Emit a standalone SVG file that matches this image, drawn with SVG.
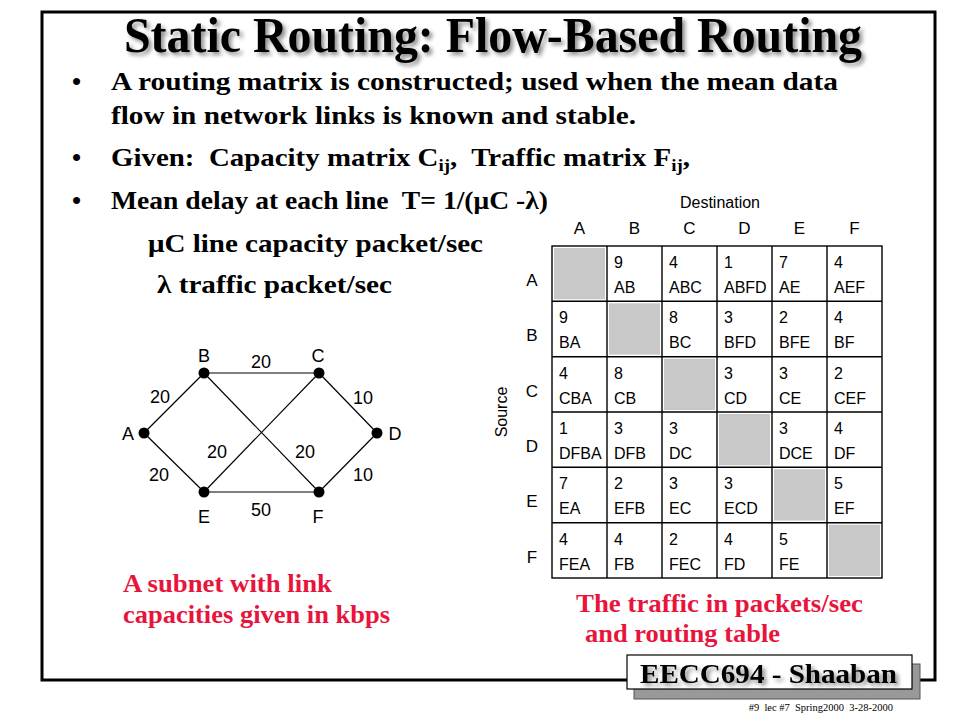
<svg xmlns="http://www.w3.org/2000/svg" width="960" height="720" viewBox="0 0 960 720">
<defs>
<filter id="sh" x="-5%" y="-20%" width="110%" height="150%">
<feGaussianBlur in="SourceAlpha" stdDeviation="2"/>
<feOffset dx="3" dy="3" result="b"/>
<feComponentTransfer><feFuncA type="linear" slope="0.45"/></feComponentTransfer>
<feMerge><feMergeNode/><feMergeNode in="SourceGraphic"/></feMerge>
</filter>
<style>
.ser{font-family:"Liberation Serif","Times New Roman",serif;font-weight:bold;fill:#000}
.red{font-family:"Liberation Serif","Times New Roman",serif;font-weight:bold;fill:#e8143c;font-size:25px}
.ar{font-family:"Liberation Sans",Arial,sans-serif;fill:#000}
.cell{font-family:"Liberation Sans",Arial,sans-serif;font-size:16px;fill:#000}
.lbl{font-family:"Liberation Sans",Arial,sans-serif;font-size:17px;fill:#000;text-anchor:middle}
.gl{font-family:"Liberation Sans",Arial,sans-serif;font-size:18px;fill:#000;text-anchor:middle}
.edge{stroke:#000;stroke-width:1.2;fill:none}
.node{fill:#000}
.grid{stroke:#000;stroke-width:1.4;fill:none}
.gray{fill:#c8c8c8}
</style>
</defs>
<rect width="960" height="720" fill="#fff"/>
<!-- frame -->
<rect x="42" y="12" width="893" height="668" fill="none" stroke="#000" stroke-width="3"/>

<!-- title -->
<text class="ser" x="124" y="52" font-size="51" textLength="738" lengthAdjust="spacingAndGlyphs" filter="url(#sh)">Static Routing: Flow-Based Routing</text>

<!-- bullets -->
<g id="bullets">
<text class="ser" x="72" y="90" font-size="26">•</text>
<text class="ser" x="111" y="90" font-size="26" textLength="727" lengthAdjust="spacingAndGlyphs">A routing matrix is constructed; used when the mean data</text>
<text class="ser" x="111" y="124" font-size="26" textLength="525" lengthAdjust="spacingAndGlyphs">flow in network links is known and stable.</text>
<text class="ser" x="72" y="166" font-size="26">•</text>
<text class="ser" x="111" y="166" font-size="26" textLength="579" lengthAdjust="spacingAndGlyphs" xml:space="preserve">Given:  Capacity matrix C<tspan font-size="17" dy="5">ij</tspan><tspan dy="-5">,  Traffic matrix F</tspan><tspan font-size="17" dy="5">ij</tspan><tspan dy="-5">,</tspan></text>
<text class="ser" x="72" y="209" font-size="26">•</text>
<text class="ser" x="111" y="209" font-size="26" textLength="437" lengthAdjust="spacingAndGlyphs" xml:space="preserve">Mean delay at each line  T= 1/(μC -λ)</text>
<text class="ser" x="148" y="252" font-size="26" textLength="335" lengthAdjust="spacingAndGlyphs">μC line capacity packet/sec</text>
<text class="ser" x="157" y="293" font-size="26" textLength="235" lengthAdjust="spacingAndGlyphs">λ traffic packet/sec</text>
</g>

<!-- graph connectors -->
<g id="connectors">
<line class="edge" x1="144" y1="433" x2="204" y2="373"/>
<line class="edge" x1="144" y1="433" x2="204" y2="492"/>
<line class="edge" x1="204" y1="373" x2="319" y2="373"/>
<line class="edge" x1="204" y1="492" x2="319" y2="492"/>
<line class="edge" x1="319" y1="373" x2="377" y2="433"/>
<line class="edge" x1="319" y1="492" x2="377" y2="433"/>
<line class="edge" x1="204" y1="373" x2="319" y2="492"/>
<line class="edge" x1="319" y1="373" x2="204" y2="492"/>
<text class="gl" x="261" y="368">20</text>
<text class="gl" x="160" y="403">20</text>
<text class="gl" x="363" y="404">10</text>
<text class="gl" x="217" y="458">20</text>
<text class="gl" x="305" y="458">20</text>
<text class="gl" x="159" y="481">20</text>
<text class="gl" x="363" y="481">10</text>
<text class="gl" x="261" y="516">50</text>
</g>
<g id="node-A"><circle class="node" cx="144" cy="433" r="5.5"/><text class="gl" x="128" y="440">A</text></g>
<g id="node-B"><circle class="node" cx="204" cy="373" r="5.5"/><text class="gl" x="204" y="362">B</text></g>
<g id="node-C"><circle class="node" cx="319" cy="373" r="5.5"/><text class="gl" x="318" y="362">C</text></g>
<g id="node-D"><circle class="node" cx="377" cy="433" r="5.5"/><text class="gl" x="395" y="440">D</text></g>
<g id="node-E"><circle class="node" cx="204" cy="492" r="5.5"/><text class="gl" x="204" y="523">E</text></g>
<g id="node-F"><circle class="node" cx="319" cy="492" r="5.5"/><text class="gl" x="318" y="523">F</text></g>

<!-- matrix -->
<g id="matrix">
<text class="ar" x="720" y="208" font-size="16" text-anchor="middle">Destination</text>
<text class="lbl" x="579.5" y="234">A</text>
<text class="lbl" x="634.5" y="234">B</text>
<text class="lbl" x="689.5" y="234">C</text>
<text class="lbl" x="744.5" y="234">D</text>
<text class="lbl" x="799.5" y="234">E</text>
<text class="lbl" x="854.5" y="234">F</text>
<text class="ar" font-size="16" text-anchor="middle" transform="translate(507,412) rotate(-90)">Source</text>
<text class="lbl" x="532" y="286">A</text>
<text class="lbl" x="532" y="341">B</text>
<text class="lbl" x="532" y="397">C</text>
<text class="lbl" x="532" y="452">D</text>
<text class="lbl" x="532" y="507">E</text>
<text class="lbl" x="532" y="563">F</text>
<rect class="gray" x="554" y="248" width="51" height="51.3"/>
<rect class="gray" x="609" y="303.3" width="51" height="51.3"/>
<rect class="gray" x="664" y="358.7" width="51" height="51.3"/>
<rect class="gray" x="719" y="414" width="51" height="51.3"/>
<rect class="gray" x="774" y="469.3" width="51" height="51.3"/>
<rect class="gray" x="829" y="524.7" width="51" height="51.3"/>
<rect class="grid" x="552" y="246" width="330" height="332"/>
<path class="grid" d="M607 246V578M662 246V578M717 246V578M772 246V578M827 246V578M552 301.3H882M552 356.7H882M552 412H882M552 467.3H882M552 522.7H882"/>
<!-- row A -->
<text class="cell" x="614" y="268">9</text><text class="cell" x="614" y="293">AB</text>
<text class="cell" x="669" y="268">4</text><text class="cell" x="669" y="293">ABC</text>
<text class="cell" x="724" y="268">1</text><text class="cell" x="724" y="293">ABFD</text>
<text class="cell" x="779" y="268">7</text><text class="cell" x="779" y="293">AE</text>
<text class="cell" x="834" y="268">4</text><text class="cell" x="834" y="293">AEF</text>
<!-- row B -->
<text class="cell" x="559" y="323.3">9</text><text class="cell" x="559" y="348.3">BA</text>
<text class="cell" x="669" y="323.3">8</text><text class="cell" x="669" y="348.3">BC</text>
<text class="cell" x="724" y="323.3">3</text><text class="cell" x="724" y="348.3">BFD</text>
<text class="cell" x="779" y="323.3">2</text><text class="cell" x="779" y="348.3">BFE</text>
<text class="cell" x="834" y="323.3">4</text><text class="cell" x="834" y="348.3">BF</text>
<!-- row C -->
<text class="cell" x="559" y="378.7">4</text><text class="cell" x="559" y="403.7">CBA</text>
<text class="cell" x="614" y="378.7">8</text><text class="cell" x="614" y="403.7">CB</text>
<text class="cell" x="724" y="378.7">3</text><text class="cell" x="724" y="403.7">CD</text>
<text class="cell" x="779" y="378.7">3</text><text class="cell" x="779" y="403.7">CE</text>
<text class="cell" x="834" y="378.7">2</text><text class="cell" x="834" y="403.7">CEF</text>
<!-- row D -->
<text class="cell" x="559" y="434">1</text><text class="cell" x="559" y="459">DFBA</text>
<text class="cell" x="614" y="434">3</text><text class="cell" x="614" y="459">DFB</text>
<text class="cell" x="669" y="434">3</text><text class="cell" x="669" y="459">DC</text>
<text class="cell" x="779" y="434">3</text><text class="cell" x="779" y="459">DCE</text>
<text class="cell" x="834" y="434">4</text><text class="cell" x="834" y="459">DF</text>
<!-- row E -->
<text class="cell" x="559" y="489.3">7</text><text class="cell" x="559" y="514.3">EA</text>
<text class="cell" x="614" y="489.3">2</text><text class="cell" x="614" y="514.3">EFB</text>
<text class="cell" x="669" y="489.3">3</text><text class="cell" x="669" y="514.3">EC</text>
<text class="cell" x="724" y="489.3">3</text><text class="cell" x="724" y="514.3">ECD</text>
<text class="cell" x="834" y="489.3">5</text><text class="cell" x="834" y="514.3">EF</text>
<!-- row F -->
<text class="cell" x="559" y="544.7">4</text><text class="cell" x="559" y="569.7">FEA</text>
<text class="cell" x="614" y="544.7">4</text><text class="cell" x="614" y="569.7">FB</text>
<text class="cell" x="669" y="544.7">2</text><text class="cell" x="669" y="569.7">FEC</text>
<text class="cell" x="724" y="544.7">4</text><text class="cell" x="724" y="569.7">FD</text>
<text class="cell" x="779" y="544.7">5</text><text class="cell" x="779" y="569.7">FE</text>
</g>

<!-- captions -->
<text class="red" x="123" y="592" textLength="209" lengthAdjust="spacingAndGlyphs">A subnet with link</text>
<text class="red" x="123" y="623" textLength="267" lengthAdjust="spacingAndGlyphs">capacities given in kbps</text>
<text class="red" x="576" y="612" textLength="287" lengthAdjust="spacingAndGlyphs">The traffic in packets/sec</text>
<text class="red" x="585" y="642" textLength="195" lengthAdjust="spacingAndGlyphs">and routing table</text>

<!-- footer box -->
<g id="footer">
<rect x="634" y="664" width="286" height="35" fill="#999" stroke="#555" stroke-width="1"/>
<rect x="627" y="655" width="285" height="34" fill="#fff" stroke="#000" stroke-width="1.2"/>
<text class="ser" x="640" y="683" font-size="28" textLength="257" lengthAdjust="spacingAndGlyphs" filter="url(#sh)">EECC694 - Shaaban</text>
<text x="893" y="711" font-family="'Liberation Serif','Times New Roman',serif" font-size="10.5" text-anchor="end" xml:space="preserve">#9  lec #7  Spring2000  3-28-2000</text>
</g>
</svg>
